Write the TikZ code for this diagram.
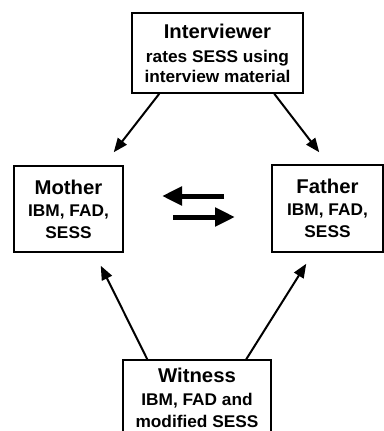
\documentclass[tikz,border=0pt]{standalone}
\usepackage{fontspec}
\setmainfont{Liberation Sans}
\usepackage{graphicx}
\usetikzlibrary{arrows.meta}
\newcommand\wl[1]{\scalebox{1.02}[1]{#1}}
\newcommand\tf{\fontsize{20}{22}\selectfont}
\begin{document}
\begin{tikzpicture}[x=1bp,y=-1bp,
  box/.style={draw, line width=1.5bp, rectangle, inner sep=0pt, align=center,
    font=\bfseries\fontsize{17}{21}\selectfont},
  diag/.style={line width=2bp, -{Triangle[length=14bp,width=11bp]}},
  bigarrow/.style={line width=5bp, -{Triangle[length=20bp,width=18bp]}}]
\clip (0,0) rectangle (384,431);
\node[box, minimum width=171bp, minimum height=80bp] (interviewer) at (217.5,53)
  {\wl{\tf Interviewer}\\[3bp]\wl{rates SESS using}\\[-1bp]\wl{interview material}};
\node[box, minimum width=109bp, minimum height=86bp] (mother) at (68.5,209)
  {\wl{\tf Mother}\\[1bp]\wl{IBM, FAD,}\\[1bp]\wl{SESS}};
\node[box, minimum width=111bp, minimum height=87bp] (father) at (327.5,208.5)
  {\wl{\tf Father}\\[1bp]\wl{IBM, FAD,}\\[1bp]\wl{SESS}};
\node[box, minimum width=148bp, minimum height=76bp] (witness) at (197,398)
  {\wl{\tf Witness}\\[2bp]\wl{IBM, FAD and}\\[1bp]\wl{modified SESS}};
\draw[diag] ([xshift=28bp]interviewer.south west) -- ([xshift=-10bp,yshift=13bp]mother.north east);
\draw[diag] ([xshift=143bp]interviewer.south west) -- ([xshift=48bp,yshift=12bp]father.north west);
\draw[diag] ([xshift=25bp]witness.north west) -- ([xshift=-23bp,yshift=-13bp]mother.south east);
\draw[diag] ([xshift=124bp]witness.north west) -- ([xshift=35bp,yshift=-11bp]father.south west);
\coordinate (lA) at (224,196);
\coordinate (lB) at (162,196);
\coordinate (rA) at (173,217);
\coordinate (rB) at (235,217);
\draw[bigarrow] (lA) -- (lB);
\draw[bigarrow] (rA) -- (rB);
\end{tikzpicture}
\end{document}
